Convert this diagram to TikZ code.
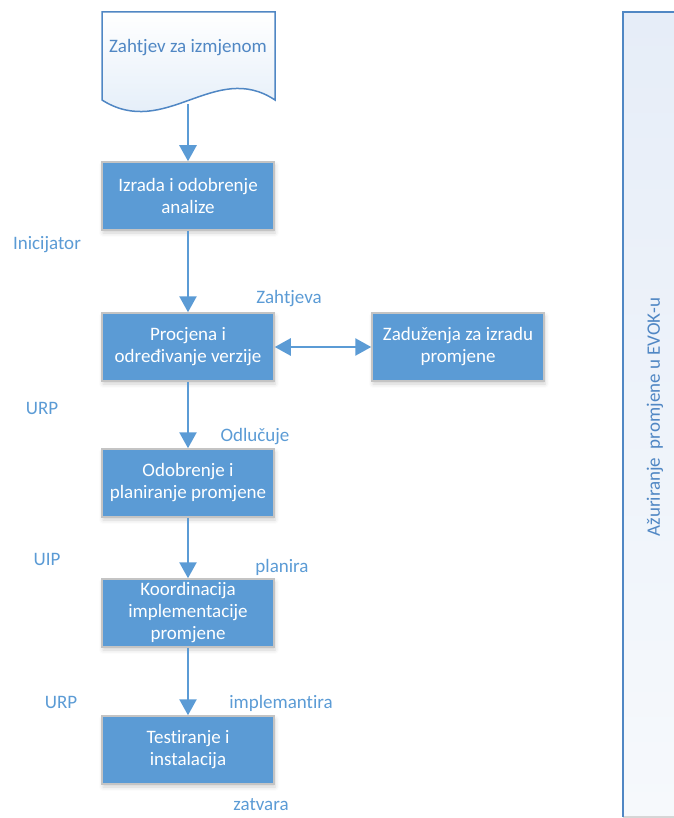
\documentclass[tikz,border=0pt]{standalone}
\usepackage{fontspec}
\setmainfont{Carlito}[Ligatures=CommonOff]
\usetikzlibrary{calc,arrows.meta,shadows.blur}
\definecolor{stepblue}{RGB}{91,155,213}
\definecolor{lineblue}{RGB}{80,135,196}
\definecolor{edgegray}{RGB}{196,196,196}
\definecolor{paleblue}{RGB}{222,234,247}
\definecolor{laneblue}{RGB}{230,237,248}
\definecolor{lanewhite}{RGB}{246,249,252}
\def\drawflow{\draw[color=stepblue, line width=2.5pt]}
\def\stepnode{\node[rectangle,draw=edgegray,line width=1.5pt,fill=stepblue,text=white,minimum width=172pt,minimum height=68pt,inner sep=0pt,align=center,font=\fontsize{19}{22}\selectfont,blur shadow={shadow xshift=1pt,shadow yshift=-3pt,shadow blur radius=4pt,shadow opacity=18}]}
\def\rolenode{\node[text=stepblue,font=\fontsize{19}{22}\selectfont,inner sep=0pt]}

\begin{document}
\begin{tikzpicture}[x=1pt,y=-1pt,flowtip/.tip={Triangle[width=17pt,length=16pt]}]
\useasboundingbox (0,0) rectangle (673,818);
\coordinate (top) at (188,12); % middle of the top edge of the request

% ---------- The lane on the right
\coordinate (lane) at (623,12);
\shade[top color=laneblue,bottom color=lanewhite] (lane) rectangle ($ (lane) + (70,805) $);
\draw[color=edgegray!70, line width=1.5pt] ($ (lane) + (0,805) $) -- ($ (lane) + (70,805) $);
\draw[color=lineblue, line width=2pt] ($ (lane) + (0,805) $) -- (lane) -- ($ (lane) + (70,0) $);
\node[rotate=90,text=lineblue,font=\fontsize{19}{22}\selectfont] (update) at ($ (lane) + (32,405) $) {Ažuriranje\ \ promjene u EVOK-u};

% ---------- The request document with its wavy bottom
\path[draw=lineblue, line width=1.5pt, top color=white, bottom color=paleblue]
  ($ (top) + (-86,0) $) -- ($ (top) + (87,0) $) -- ($ (top) + (87,88) $)
  .. controls ($ (top) + (27,48) $) and ($ (top) + (-23,128) $) .. ($ (top) + (-86,88) $) -- cycle;
\node[text=lineblue,font=\fontsize{19}{22}\selectfont] (request) at ($ (top) + (0,36) $) {Zahtjev za izmjenom};
\coordinate (request_bottom) at ($ (top) + (0,92) $); % where the wave crosses the middle

% ---------- The steps
\stepnode (analysis) at ($ (top) + (0,184) $) {Izrada i odobrenje\\analize};
\stepnode (estimate) at ($ (analysis) + (0,151) $) {Procjena i\\određivanje verzije};
\stepnode (assign) at ($ (estimate) + (270,0) $) {Zaduženja za izradu\\promjene};
\stepnode (approve) at ($ (estimate) + (0,136) $) {Odobrenje i\\planiranje promjene};
\stepnode (coordinate) at ($ (approve) + (0,130) $) {Koordinacija\\implementacije\\promjene};
\stepnode (testing) at ($ (coordinate) + (0,137) $) {Testiranje i\\instalacija};

% Connectors
\drawflow[-flowtip] (request_bottom) to (analysis);
\drawflow[-flowtip] (analysis) to (estimate);
\drawflow[flowtip-flowtip] (estimate) to (assign);
\drawflow[-flowtip] (estimate) to (approve);
\drawflow[-flowtip] (approve) to (coordinate);
\drawflow[-flowtip] (coordinate) to (testing);

% ---------- Who does what
\rolenode (initiator) at (47,245) {Inicijator};
\rolenode (requests) at (289,299) {Zahtjeva};
\rolenode (urp_top) at (42,408) {URP};
\rolenode (decides) at (255,437) {Odlučuje};
\rolenode (uip) at (47,559) {UIP};
\rolenode (plans) at (282,567) {planira};
\rolenode (urp_bottom) at (61,702) {URP};
\rolenode (implements) at (281,703) {implemantira};
\rolenode (closes) at (261,805) {zatvara};
\end{tikzpicture}
\end{document}
